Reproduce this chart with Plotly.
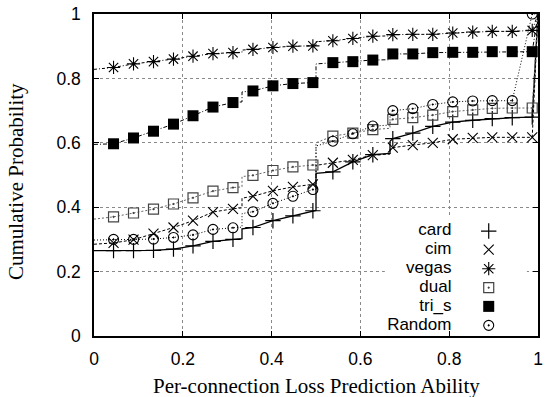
import plotly.graph_objects as go

# Marker positions along the x axis (shared by all series)
mark_x = [0.044, 0.089, 0.134, 0.179, 0.223, 0.268, 0.313, 0.358, 0.403, 0.448, 0.493,
          0.538, 0.583, 0.628, 0.673, 0.718, 0.763, 0.808, 0.853, 0.897, 0.942, 0.987]

series_names = ["card", "cim", "vegas", "dual", "tri_s", "Random"]

card_y = [0.265, 0.265, 0.266, 0.270, 0.280, 0.294, 0.300, 0.337, 0.358, 0.373, 0.389,
          0.510, 0.541, 0.563, 0.613, 0.630, 0.651, 0.664, 0.670, 0.675, 0.678, 0.680]
cim_y = [0.289, 0.299, 0.318, 0.337, 0.358, 0.385, 0.395, 0.434, 0.451, 0.463, 0.471,
         0.538, 0.547, 0.562, 0.585, 0.593, 0.600, 0.611, 0.615, 0.617, 0.617, 0.617]
vegas_y = [0.834, 0.845, 0.852, 0.860, 0.869, 0.877, 0.880, 0.890, 0.896, 0.900, 0.901,
           0.917, 0.924, 0.931, 0.936, 0.937, 0.937, 0.941, 0.944, 0.946, 0.946, 0.949]
dual_y = [0.370, 0.382, 0.394, 0.410, 0.429, 0.450, 0.461, 0.499, 0.514, 0.525, 0.531,
          0.621, 0.630, 0.641, 0.673, 0.678, 0.686, 0.697, 0.702, 0.707, 0.708, 0.708]
tri_s_y = [0.597, 0.615, 0.636, 0.658, 0.684, 0.711, 0.725, 0.761, 0.777, 0.784, 0.787,
           0.849, 0.852, 0.857, 0.876, 0.876, 0.880, 0.881, 0.881, 0.883, 0.883, 0.883]
random_y = [0.300, 0.300, 0.301, 0.306, 0.314, 0.331, 0.336, 0.386, 0.412, 0.434, 0.455,
            0.605, 0.628, 0.652, 0.700, 0.706, 0.719, 0.727, 0.730, 0.731, 0.731, 1.000]

# CDF value where each curve meets the y axis
start_y = {"card": 0.265, "cim": 0.285, "vegas": 0.828, "dual": 0.363, "tri_s": 0.595, "Random": 0.298}

# Jumps of the CDF at x = 1/3, 1/2, 2/3: (value before, value after)
step_x = [1 / 3, 1 / 2, 2 / 3]
steps = {
    "card":   [(0.302, 0.333), (0.390, 0.505), (0.567, 0.605)],
    "cim":    [(0.398, 0.428), (0.472, 0.530), (0.565, 0.580)],
    "vegas":  [(0.881, 0.888), (0.902, 0.914), (0.932, 0.935)],
    "dual":   [(0.463, 0.495), (0.532, 0.600), (0.645, 0.668)],
    "tri_s":  [(0.727, 0.758), (0.788, 0.845), (0.858, 0.874)],
    "Random": [(0.338, 0.380), (0.456, 0.590), (0.655, 0.690)],
}

marker_y = {"card": card_y, "cim": cim_y, "vegas": vegas_y,
            "dual": dual_y, "tri_s": tri_s_y, "Random": random_y}

styles = {
    "card":   dict(line=dict(color="black", width=1.3, dash="solid"),
                   marker=dict(symbol="cross-thin", size=11, line=dict(color="black", width=1.2))),
    "cim":    dict(line=dict(color="black", width=1, dash="3px,2px"),
                   marker=dict(symbol="x-thin", size=10, line=dict(color="black", width=1.1))),
    "vegas":  dict(line=dict(color="black", width=1, dash="3px,2px,1px,2px"),
                   marker=dict(symbol="asterisk", size=11, line=dict(color="black", width=1.1))),
    "dual":   dict(line=dict(color="#666666", width=1, dash="2px,2px"),
                   marker=dict(symbol="square-open-dot", size=10, color="#444444",
                               line=dict(color="#444444", width=1.2))),
    "tri_s":  dict(line=dict(color="black", width=1, dash="4px,2px,1px,2px"),
                   marker=dict(symbol="square", size=11, color="black", line=dict(width=0))),
    "Random": dict(line=dict(color="black", width=1, dash="1px,2px"),
                   marker=dict(symbol="circle-open-dot", size=10, color="black",
                               line=dict(color="black", width=1.1))),
}

fig = go.Figure()


def curve(name):
    """Polyline of the CDF: axis start, markers, vertical jumps, and the rise to 1 at x = 1."""
    pts = [(0.0, start_y[name])] + list(zip(mark_x, marker_y[name]))
    for sx, (lo, hi) in zip(step_x, steps[name]):
        pts += [(sx, lo), (sx + 1e-6, hi)]
    pts.sort(key=lambda p: p[0])
    pts.append((1.0, 1.0))
    return [p[0] for p in pts], [p[1] for p in pts]


for name in series_names:
    lx, ly = curve(name)
    fig.add_trace(go.Scatter(x=lx, y=ly, mode="lines", line=styles[name]["line"],
                             showlegend=False, hoverinfo="skip"))

for name in series_names:
    fig.add_trace(go.Scatter(x=mark_x, y=marker_y[name], mode="markers",
                             marker=styles[name]["marker"], showlegend=False, name=name))

# Key: label on the left, symbol on the right, on a white patch over the grid
key_rows_y = [0.326, 0.268, 0.209, 0.150, 0.092, 0.033]
key_text_x = 0.805
key_mark_x = 0.889

fig.add_shape(type="rect", xref="x", yref="y", x0=0.655, x1=0.975, y0=0.022, y1=0.372,
              fillcolor="white", line=dict(width=0), layer="between")

fig.add_trace(go.Scatter(x=[key_text_x] * len(series_names), y=key_rows_y, mode="text",
                         text=series_names, textposition="middle left",
                         textfont=dict(family="Liberation Sans, Arial", size=17, color="black"),
                         showlegend=False, hoverinfo="skip"))

for name, ky in zip(series_names, key_rows_y):
    fig.add_trace(go.Scatter(x=[key_mark_x], y=[ky], mode="markers",
                             marker=styles[name]["marker"], showlegend=False, hoverinfo="skip"))

tick_vals = [0, 0.2, 0.4, 0.6, 0.8, 1]
tick_text = ["0", "0.2", "0.4", "0.6", "0.8", "1"]

axis_common = dict(
    range=[0, 1], tickvals=tick_vals, ticktext=tick_text,
    showline=True, linecolor="black", linewidth=1.5, mirror="ticks",
    ticks="inside", ticklen=5, tickcolor="black", tickwidth=1,
    showgrid=True, gridcolor="#8a8a8a", gridwidth=1, griddash="dot",
    zeroline=False, tickfont=dict(family="Liberation Sans, Arial", size=17.5, color="black"),
    fixedrange=True,
)

fig.update_layout(
    width=547, height=397,
    margin=dict(l=94, r=4, t=12, b=61),
    paper_bgcolor="white", plot_bgcolor="white",
    xaxis=dict(**axis_common, ticklabelstandoff=6),
    yaxis=dict(**axis_common, ticklabelstandoff=8),
)

fig.add_annotation(x=0.5, y=-0.155, xref="paper", yref="paper",
                   text="Per-connection Loss Prediction Ability", showarrow=False,
                   xanchor="center", yanchor="middle",
                   font=dict(family="Liberation Serif, Times New Roman", size=21, color="black"))
fig.add_annotation(x=-0.176, y=0.481, xref="paper", yref="paper",
                   text="Cumulative Probability", showarrow=False, textangle=-90,
                   xanchor="center", yanchor="middle",
                   font=dict(family="Liberation Serif, Times New Roman", size=21, color="black"))

fig.write_html("out.html")
